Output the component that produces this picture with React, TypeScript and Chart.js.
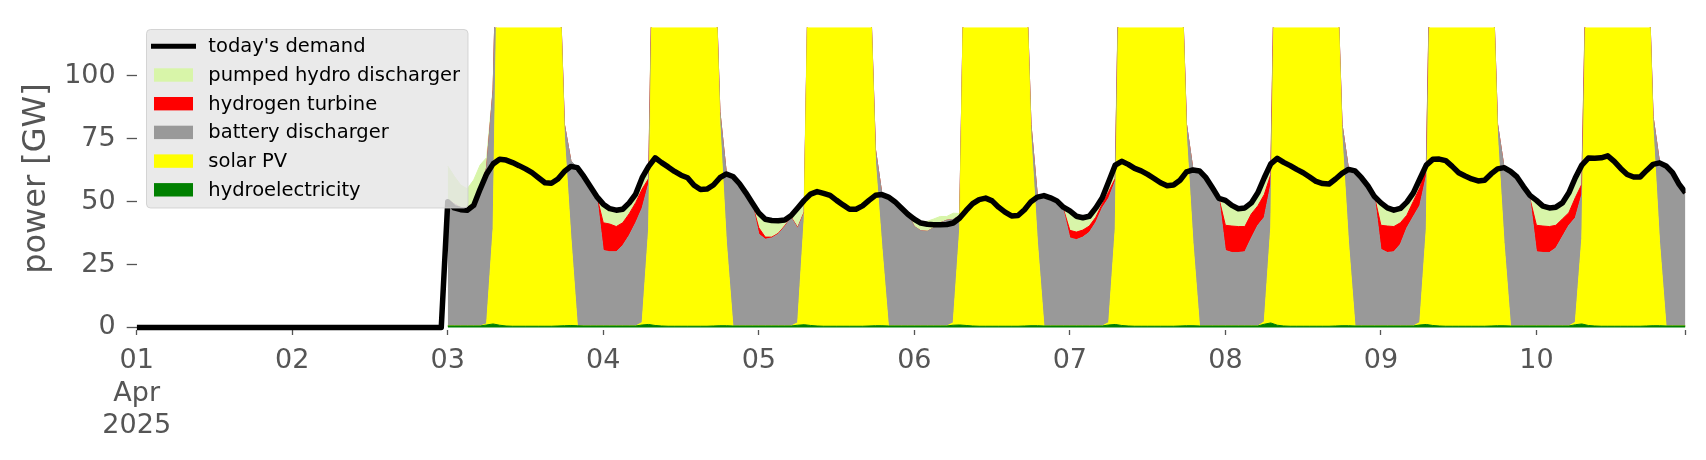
import React, { useEffect, useRef } from "react";
import { Chart, registerables } from "chart.js";

Chart.register(...registerables);

// ---------- axis / tick data ----------
const xTickHours = [0, 24, 48, 72, 96, 120, 144, 168, 192, 216, 239];
const xTickLabels: (string | string[])[] = [
  ["01", "Apr", "2025"], "02", "03", "04", "05", "06", "07", "08", "09", "10", "",
];
const yTickValues = [0, 25, 50, 75, 100];
const modelStartHour = 48; // model output starts at 03 Apr 00:00 (hours since 01 Apr 00:00)

// ---------- series (GW, hourly) ----------
const demandApr01to02 = [
  0, 0, 0, 0, 0, 0, 0, 0, 0, 0, 0, 0, 0, 0, 0, 0, 0, 0, 0, 0, 0, 0, 0, 0,
  0, 0, 0, 0, 0, 0, 0, 0, 0, 0, 0, 0, 0, 0, 0, 0, 0, 0, 0, 0, 0, 0, 0, 0,
];
const demandApr03to10 = [
  50, 47.5, 46.8, 46.6, 48.5, 55, 61, 65, 66.8, 66.5, 65.5, 64.3, 63, 61.5, 59.5, 57.5, 57.3, 59, 62, 64, 63.5, 60, 56, 52,
  49, 47.2, 46.6, 47, 49.5, 53, 59.5, 64, 67.4, 65.5, 63.8, 62, 60.5, 59.5, 56.5, 54.8, 55, 56.6, 59.5, 61, 60, 57.2, 53.5, 49.5,
  45.5, 43, 42.5, 42.4, 42.7, 44.5, 47.5, 50.5, 53, 54, 53.3, 52.5, 50.5, 48.7, 47, 47, 48.3, 50.5, 52.5, 52.8, 51.8, 50, 47.5, 45,
  43, 41.5, 41, 40.8, 40.8, 40.9, 41.5, 43.5, 46.5, 49.2, 50.8, 51.4, 50.3, 47.8, 45.8, 44.3, 44.5, 46.8, 50, 51.8, 52.4, 51.5, 50.3, 47.8,
  46.3, 44.2, 43.6, 44.2, 47.5, 51.5, 58, 64.5, 66, 64.8, 63.2, 62.2, 60.8, 59.2, 57.5, 56.3, 56.6, 58.5, 61.8, 62.6, 62.2, 59.5, 55.5, 51.3,
  50.5, 48.5, 47.2, 47.5, 49.5, 53.5, 59.5, 65, 67.2, 65.6, 64.3, 62.8, 61.5, 59.8, 58, 57.2, 57, 59, 61.2, 62.8, 62.2, 59.5, 56.2, 52,
  49.5, 47.5, 46.6, 47.3, 49.8, 53.5, 59, 64.5, 66.8, 66.9, 66.3, 64, 61.5, 60.2, 59, 58.2, 58.5, 61, 63, 63.5, 62, 59.8, 56, 52.5,
  50.5, 48.2, 47.5, 47.8, 49.5, 53.5, 59.5, 64.5, 67.3, 67.2, 67.4, 68.2, 66, 63.2, 60.8, 59.8, 59.8, 62.4, 64.8, 65.4, 64.2, 61.5, 57, 53.5,
];
const hydroelectricity = [
  0.6, 0.6, 0.6, 0.6, 0.6, 0.6, 1.0, 1.4, 0.9, 0.6, 0.5, 0.5, 0.5, 0.5, 0.5, 0.5, 0.5, 0.6, 0.7, 0.8, 0.7, 0.6, 0.6, 0.6,
  0.6, 0.6, 0.6, 0.6, 0.6, 0.6, 1.0, 1.2, 0.8, 0.6, 0.5, 0.5, 0.5, 0.5, 0.5, 0.5, 0.5, 0.6, 0.7, 0.7, 0.6, 0.6, 0.6, 0.6,
  0.6, 0.6, 0.6, 0.6, 0.6, 0.6, 0.9, 1.1, 0.8, 0.6, 0.5, 0.5, 0.5, 0.5, 0.5, 0.5, 0.5, 0.6, 0.7, 0.7, 0.6, 0.6, 0.6, 0.6,
  0.6, 0.6, 0.6, 0.6, 0.6, 0.6, 0.9, 1.0, 0.8, 0.6, 0.5, 0.5, 0.5, 0.5, 0.5, 0.5, 0.5, 0.6, 0.7, 0.7, 0.6, 0.6, 0.6, 0.6,
  0.6, 0.6, 0.6, 0.6, 0.6, 0.6, 1.0, 1.2, 0.8, 0.6, 0.5, 0.5, 0.5, 0.5, 0.5, 0.5, 0.5, 0.6, 0.7, 0.7, 0.6, 0.6, 0.6, 0.6,
  0.6, 0.6, 0.6, 0.6, 0.6, 0.6, 1.3, 1.8, 0.9, 0.6, 0.5, 0.5, 0.5, 0.5, 0.5, 0.5, 0.5, 0.6, 0.7, 0.7, 0.6, 0.6, 0.6, 0.6,
  0.6, 0.6, 0.6, 0.6, 0.6, 0.6, 1.0, 1.2, 0.8, 0.6, 0.5, 0.5, 0.5, 0.5, 0.5, 0.5, 0.5, 0.6, 0.7, 0.7, 0.6, 0.6, 0.6, 0.6,
  0.6, 0.6, 0.6, 0.6, 0.6, 0.6, 1.1, 1.4, 0.8, 0.6, 0.5, 0.5, 0.5, 0.5, 0.5, 0.5, 0.5, 0.6, 0.7, 0.7, 0.6, 0.6, 0.6, 0.6,
];
const solarPV = [
  0, 0, 0, 0, 0, 0, 0.5, 38, 200, 265, 295, 305, 300, 290, 270, 240, 205, 160, 75, 35, 0, 0, 0, 0,
  0, 0, 0, 0, 0, 0, 1, 38, 210, 270, 300, 310, 305, 295, 275, 245, 205, 165, 80, 33, 0, 0, 0, 0,
  0, 0, 0, 0, 0, 0, 1, 42, 195, 250, 280, 290, 285, 275, 255, 225, 190, 150, 65, 31, 0, 0, 0, 0,
  0, 0, 0, 0, 0, 0, 1, 38, 190, 245, 270, 280, 275, 265, 250, 220, 190, 160, 75, 33, 0, 0, 0, 0,
  0, 0, 0, 0, 0, 0, 1, 38, 205, 265, 295, 305, 300, 290, 270, 240, 205, 160, 75, 33, 0, 0, 0, 0,
  0, 0, 0, 0, 0, 0, 1, 38, 210, 270, 300, 310, 305, 295, 275, 245, 205, 160, 75, 33, 0, 0, 0, 0,
  0, 0, 0, 0, 0, 0, 1, 38, 205, 265, 295, 305, 300, 290, 270, 240, 205, 160, 75, 33, 0, 0, 0, 0,
  0, 0, 0, 0, 0, 0, 1, 34, 185, 260, 290, 300, 295, 285, 265, 235, 200, 165, 78, 33, 0, 0, 0, 0,
];
const batteryDischarger = [
  50, 48.5, 47, 46.5, 49, 55, 62, 55, 0, 0, 0, 0, 0, 0, 0, 0, 0, 0, 5, 30.4, 62.9, 59.4, 55.4, 51.4,
  30, 29.5, 29.5, 32, 36, 41, 45.5, 18, 0, 0, 0, 0, 0, 0, 0, 0, 0, 0, 5, 27.4, 59.4, 56.6, 52.9, 48.4,
  36.5, 34.5, 35, 36.5, 39.5, 43, 37.5, 2.5, 0, 0, 0, 0, 0, 0, 0, 0, 0, 0, 5, 21.2, 51.2, 49.4, 46.9, 44.4,
  39.5, 37.8, 37.6, 39, 41, 42, 41, 5.5, 0, 0, 0, 0, 0, 0, 0, 0, 0, 0, 5, 18.2, 51.8, 50.9, 49.7, 46,
  35, 34.3, 35.3, 37.2, 41.2, 47, 49.5, 19, 0, 0, 0, 0, 0, 0, 0, 0, 0, 0, 5, 29, 61.6, 58.9, 54.9, 50.7,
  30, 29.2, 29.2, 29.5, 35, 40, 41.5, 17, 0, 0, 0, 0, 0, 0, 0, 0, 0, 0, 5, 29.2, 61.6, 58.9, 55.6, 51.4,
  30.5, 29.2, 29.5, 32.5, 39, 43.5, 46.5, 21, 0, 0, 0, 0, 0, 0, 0, 0, 0, 0, 5, 29.9, 61.4, 59.2, 55.4, 50.5,
  29.5, 29.2, 29.2, 31, 35.5, 40, 41.5, 17.5, 0, 0, 0, 0, 0, 0, 0, 0, 0, 0, 5, 31.8, 63.6, 60.9, 56.4, 52.9,
];
const hydrogenTurbine = [
  0, 0, 0, 0, 0, 0, 0, 0, 0, 0, 0, 0, 0, 0, 0, 0, 0, 0, 0, 0, 0, 0, 0, 0,
  11, 11, 10, 9, 8.6, 8, 7.5, 2, 0, 0, 0, 0, 0, 0, 0, 0, 0, 0, 0, 0, 0, 0, 0, 0,
  2.5, 0.8, 0.3, 0.3, 0.3, 0.2, 0.3, 0.3, 0, 0, 0, 0, 0, 0, 0, 0, 0, 0, 0, 0, 0, 0, 0, 0,
  0, 0, 0, 0, 0, 0, 0, 0, 0, 0, 0, 0, 0, 0, 0, 0, 0, 0, 0, 0, 0, 0, 0, 0.5,
  3, 3, 2.8, 2.5, 2, 1.5, 2.5, 1, 0, 0, 0, 0, 0, 0, 0, 0, 0, 0, 0, 0, 0, 0, 0, 0,
  10, 10.5, 10.3, 10, 9.5, 7.7, 9, 4, 0, 0, 0, 0, 0, 0, 0, 0, 0, 0, 0, 0, 0, 0, 0, 0,
  9.5, 10.5, 10, 8.5, 5, 6, 7, 3, 0, 0, 0, 0, 0, 0, 0, 0, 0, 0, 0, 0, 0, 0, 0, 0,
  10.5, 10.5, 10.3, 9, 7, 5, 8, 4, 0, 0, 0, 0, 0, 0, 0, 0, 0, 0, 0, 0, 0, 0, 0, 0,
];
const pumpedHydroDischarger = [
  13.5, 11, 9, 8, 9, 9, 4, 1, 0, 0, 0, 0, 0, 0, 0, 0, 0, 0, 0, 0, 0, 0, 0, 0,
  6, 6.5, 7, 6.5, 4.5, 3.5, 5, 4, 0, 0, 0, 0, 0, 0, 0, 0, 0, 0, 0, 0, 0, 0, 0, 0.5,
  6.5, 7.8, 6.8, 5.2, 2.6, 1.2, 6.5, 5, 0, 0, 0, 0, 0, 0, 0, 0, 0, 0, 0, 0, 0, 0, 0, 0,
  3, 3.5, 4, 3.5, 2.5, 1.5, 2.5, 0.8, 0, 0, 0, 0, 0, 0, 0, 0, 0, 0, 0, 0, 0, 0, 0, 0.7,
  7.5, 6.3, 5, 3.8, 3.5, 2.3, 4, 5, 0, 0, 0, 0, 0, 0, 0, 0, 0, 0, 0, 0, 0, 0, 0, 0,
  8.5, 7.5, 7, 7.2, 4, 5, 4, 3, 0, 0, 0, 0, 0, 0, 0, 0, 0, 0, 0, 0, 0, 0, 0, 0,
  8.5, 7.3, 6.5, 5.7, 5, 3.5, 3.8, 2, 0, 0, 0, 0, 0, 0, 0, 0, 0, 0, 0, 0, 0, 0, 0, 0,
  9.5, 7.8, 7.4, 7, 6.4, 7.9, 7.9, 4.4, 0, 0, 0, 0, 0, 0, 0, 0, 0, 0, 0, 0, 0, 0, 0, 0,
];

// ---------- styling ----------
const COLORS = {
  demand: "#000000",
  pumped: "#D8F5A9",
  hydrogen: "#FF0000",
  battery: "#999999",
  solar: "#FFFF00",
  hydro: "#008000",
};
const FONT = "DejaVu Sans";
const TEXT_GRAY = "#555555";

const legendEntries = [
  { label: "today's demand", color: COLORS.demand, kind: "line" },
  { label: "pumped hydro discharger", color: COLORS.pumped, kind: "patch" },
  { label: "hydrogen turbine", color: COLORS.hydrogen, kind: "patch" },
  { label: "battery discharger", color: COLORS.battery, kind: "patch" },
  { label: "solar PV", color: COLORS.solar, kind: "patch" },
  { label: "hydroelectricity", color: COLORS.hydro, kind: "patch" },
];

const toPoints = (arr: number[], start: number) => arr.map((y, i) => ({ x: start + i, y }));

const boxLegendPlugin = {
  id: "boxLegend",
  afterDraw(chart: any) {
    const ctx = chart.ctx as CanvasRenderingContext2D;
    ctx.save();
    const bx = 146.5, by = 29.5, bw = 321.5, bh = 178.5;
    ctx.beginPath();
    (ctx as any).roundRect(bx, by, bw, bh, 4);
    ctx.fillStyle = "rgba(229,229,229,0.8)";
    ctx.fill();
    ctx.strokeStyle = "rgba(204,204,204,0.8)";
    ctx.lineWidth = 1;
    ctx.stroke();
    ctx.font = `19.5px "${FONT}"`;
    ctx.textBaseline = "middle";
    ctx.textAlign = "left";
    legendEntries.forEach((e, i) => {
      const cy = 46.3 + i * 28.7;
      if (e.kind === "line") {
        ctx.strokeStyle = e.color;
        ctx.lineWidth = 5;
        ctx.beginPath();
        ctx.moveTo(151, cy);
        ctx.lineTo(196, cy);
        ctx.stroke();
      } else {
        ctx.fillStyle = e.color;
        ctx.fillRect(154, cy - 6.7, 39, 13.4);
      }
      ctx.fillStyle = "#000000";
      ctx.fillText(e.label, 208.3, cy + 0.8);
    });
    ctx.restore();
  },
};

function areaDataset(label: string, data: number[], color: string, fill: string) {
  return {
    label,
    data: toPoints(data, modelStartHour),
    borderColor: color,
    backgroundColor: color,
    borderWidth: 1,
    pointRadius: 0,
    pointHoverRadius: 0,
    tension: 0,
    fill,
    stack: "supply",
    order: 1,
    clip: 0,
  };
}

export default function App() {
  const canvasRef = useRef<HTMLCanvasElement | null>(null);

  useEffect(() => {
    if (!canvasRef.current) return;
    const demand = [...demandApr01to02, ...demandApr03to10];
    const chart = new Chart(canvasRef.current, {
      type: "line",
      data: {
        datasets: [
          areaDataset("hydroelectricity", hydroelectricity, COLORS.hydro, "origin"),
          areaDataset("solar PV", solarPV, COLORS.solar, "-1"),
          areaDataset("battery discharger", batteryDischarger, COLORS.battery, "-1"),
          areaDataset("hydrogen turbine", hydrogenTurbine, COLORS.hydrogen, "-1"),
          areaDataset("pumped hydro discharger", pumpedHydroDischarger, COLORS.pumped, "-1"),
          {
            label: "today's demand",
            data: toPoints(demand, 0),
            borderColor: COLORS.demand,
            backgroundColor: COLORS.demand,
            borderWidth: 5.5,
            pointRadius: 0,
            pointHoverRadius: 0,
            tension: 0,
            fill: false,
            stack: "demand",
            order: 0,
            borderJoinStyle: "round",
            clip: { left: 0, top: 0, right: 0, bottom: 10 },
          } as any,
        ],
      },
      options: {
        animation: false,
        responsive: false,
        maintainAspectRatio: false,
        devicePixelRatio: 1,
        layout: { padding: { top: 22, right: 20.5, left: 0, bottom: 0 } },
        plugins: {
          legend: { display: false },
          tooltip: { enabled: false },
        },
        scales: {
          x: {
            type: "linear",
            min: 0,
            max: 239,
            border: { display: false },
            grid: {
              display: true,
              drawOnChartArea: false,
              drawTicks: true,
              tickLength: 5,
              tickColor: TEXT_GRAY,
              tickWidth: 1.3,
            },
            afterBuildTicks: (scale: any) => {
              scale.ticks = xTickHours.map((v) => ({ value: v }));
            },
            afterFit: (scale: any) => {
              scale.height = 130;
            },
            ticks: {
              autoSkip: false,
              maxRotation: 0,
              minRotation: 0,
              padding: 10,
              color: TEXT_GRAY,
              font: { family: FONT, size: 27, lineHeight: 1.2 },
              callback: (_v: any, i: number) => xTickLabels[i],
            },
          },
          y: {
            type: "linear",
            stacked: true,
            min: -1,
            max: 119.3,
            border: { display: false },
            grid: {
              display: true,
              drawOnChartArea: false,
              drawTicks: true,
              tickLength: 10,
              tickColor: TEXT_GRAY,
              tickWidth: 1.3,
            },
            afterBuildTicks: (scale: any) => {
              scale.ticks = yTickValues.map((v) => ({ value: v }));
            },
            afterFit: (scale: any) => {
              scale.width = 136.7;
            },
            ticks: {
              padding: 11,
              color: TEXT_GRAY,
              font: { family: FONT, size: 27 },
              callback: (v: any) => String(v),
            },
            title: {
              display: true,
              text: "power [GW]",
              color: TEXT_GRAY,
              font: { family: FONT, size: 32 },
              padding: { top: 17, bottom: 0 },
            },
          },
        },
      },
      plugins: [boxLegendPlugin],
    });
    return () => chart.destroy();
  }, []);

  return (
    <div style={{ position: "absolute", left: 0, top: 0, width: 1706, height: 460, background: "#ffffff" }}>
      <canvas ref={canvasRef} width={1706} height={460} style={{ width: 1706, height: 460, display: "block" }} />
    </div>
  );
}
